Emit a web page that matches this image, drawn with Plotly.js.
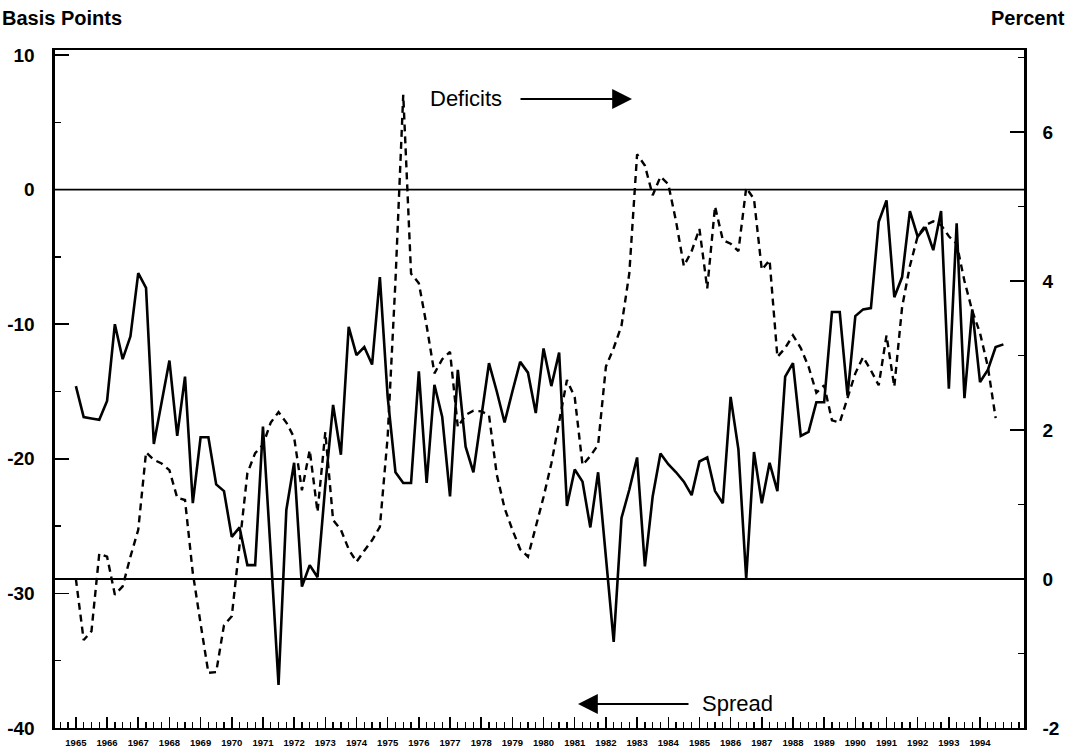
<!DOCTYPE html>
<html>
<head>
<meta charset="utf-8">
<script src="https://cdn.plot.ly/plotly-3.0.1.min.js"></script>
<style>html,body{margin:0;padding:0;background:#fff}#chart{width:1069px;height:752px}</style>
</head>
<body>
<div id="chart"></div>
<script>
// Quarterly data, 1965Q1 .. 1994Q4
const startYear = 1965;
const spread = [
 -14.6,-16.9,-17.0,-17.1,-15.7,-10.0,-12.6,-10.9,-6.2,-7.3,
 -18.9,-15.8,-12.7,-18.3,-13.9,-23.3,-18.4,-18.4,-21.9,-22.4,
 -25.8,-25.1,-27.9,-27.9,-17.6,-27.0,-36.8,-23.8,-20.3,-29.5,
 -27.9,-28.8,-22.0,-16.0,-19.7,-10.2,-12.3,-11.7,-13.0,-6.5,
 -15.4,-21.0,-21.8,-21.8,-13.5,-21.8,-14.5,-16.9,-22.8,-13.4,
 -19.1,-21.0,-17.0,-12.9,-15.0,-17.3,-15.0,-12.8,-13.6,-16.6,
 -11.8,-14.6,-12.1,-23.5,-20.8,-21.7,-25.1,-21.0,-27.3,-33.6,
 -24.4,-22.3,-19.9,-28.0,-22.8,-19.6,-20.4,-21.0,-21.7,-22.7,
 -20.2,-19.9,-22.4,-23.3,-15.4,-19.3,-28.9,-19.5,-23.3,-20.3,
 -22.4,-13.9,-12.9,-18.3,-18.0,-15.8,-15.8,-9.1,-9.1,-15.3,
 -9.4,-8.9,-8.8,-2.4,-0.8,-8.0,-6.5,-1.6,-3.5,-2.8,
 -4.5,-1.6,-14.8,-2.5,-15.5,-8.9,-14.3,-13.4,-11.7,-11.5
];
const deficits = [
 0.0,-0.82,-0.7,0.34,0.30,-0.21,-0.1,0.30,0.66,1.70,
 1.6,1.55,1.46,1.09,1.06,0.08,-0.6,-1.26,-1.25,-0.62,
 -0.5,0.43,1.42,1.69,1.8,2.1,2.24,2.1,1.9,1.19,
 1.73,0.9,1.97,0.79,0.66,0.4,0.23,0.38,0.52,0.7,
 1.91,4.0,6.5,4.1,3.97,3.4,2.76,2.95,3.05,2.04,
 2.2,2.26,2.25,2.2,1.4,0.95,0.66,0.4,0.3,0.7,
 1.1,1.55,2.1,2.67,2.44,1.53,1.65,1.8,2.85,3.1,
 3.4,4.1,5.7,5.55,5.15,5.4,5.3,4.8,4.2,4.4,
 4.7,3.9,5.0,4.55,4.5,4.4,5.25,5.1,4.15,4.28,
 2.98,3.1,3.27,3.1,2.85,2.5,2.6,2.13,2.1,2.44,
 2.76,2.98,2.8,2.6,3.27,2.58,3.65,4.2,4.6,4.75,
 4.8,4.75,4.6,4.5,4.0,3.6,3.3,2.85,2.16
];
const yearLabels = [];
for (let y = 1965; y <= 1994; y++) yearLabels.push(y);
const leftTicks = [-40, -30, -20, -10, 0, 10];
const rightTicks = [-2, 0, 2, 4, 6];

const xs = spread.map((_, i) => startYear + i / 4);
const xd = deficits.map((_, i) => startYear + i / 4);

const traces = [
  {x: xs, y: spread, type: 'scatter', mode: 'lines', yaxis: 'y',
   line: {color: '#000', width: 2.6}, hoverinfo: 'skip'},
  {x: xd, y: deficits, type: 'scatter', mode: 'lines', yaxis: 'y2',
   line: {color: '#000', width: 2.4, dash: '7px,5px'}, hoverinfo: 'skip'}
];

const FONT = 'Liberation Sans, Arial, sans-serif';
const W = 1069, H = 752, L = 55, R = 45, T = 50, B = 24;
const pw = W - L - R, ph = H - T - B;
const px = v => (v - L) / pw;
const py = v => (H - B - v) / ph;

const layout = {
  width: W, height: H,
  margin: {l: L, r: R, t: T, b: B, pad: 0},
  paper_bgcolor: '#fff', plot_bgcolor: '#fff',
  showlegend: false,
  font: {family: FONT, color: '#000'},
  xaxis: {
    range: [1964.33, 1995.41],
    tickvals: yearLabels, ticktext: yearLabels.map(String),
    ticks: 'inside', ticklen: 11, tickwidth: 1.5, tickcolor: '#000',
    minor: {dtick: 0.25, tick0: 1965, ticks: 'inside', ticklen: 6, tickwidth: 1.3, tickcolor: '#000'},
    showline: true, linewidth: 2.2, linecolor: '#000', mirror: true,
    showgrid: false, zeroline: false,
    tickfont: {family: FONT, size: 9.5, weight: 'bold', color: '#000'},
    ticklabelstandoff: 4
  },
  yaxis: {
    range: [-40, 10.37],
    tickvals: leftTicks, ticktext: leftTicks.map(String),
    ticks: 'inside', ticklen: 14, tickwidth: 1.5, tickcolor: '#000',
    minor: {tickvals: [-35, -25, -15, -5, 5], ticks: 'inside', ticklen: 6, tickwidth: 1.3, tickcolor: '#000'},
    showline: true, linewidth: 2.6, linecolor: '#000',
    showgrid: false, zeroline: false,
    tickfont: {family: FONT, size: 19, weight: 'bold', color: '#000'},
    ticklabelstandoff: 14
  },
  yaxis2: {
    range: [-2, 7.1], overlaying: 'y', side: 'right',
    tickvals: rightTicks, ticktext: rightTicks.map(String),
    ticks: 'inside', ticklen: 14, tickwidth: 1.5, tickcolor: '#000',
    minor: {tickvals: [-1, 1, 3, 5, 7], ticks: 'inside', ticklen: 6, tickwidth: 1.3, tickcolor: '#000'},
    showline: true, linewidth: 2.6, linecolor: '#000',
    showgrid: false, zeroline: false,
    tickfont: {family: FONT, size: 19, weight: 'bold', color: '#000'},
    ticklabelstandoff: 12
  },
  shapes: [
    {type: 'line', xref: 'paper', x0: 0, x1: 1, yref: 'y', y0: 0, y1: 0, line: {color: '#000', width: 1.8}},
    {type: 'line', xref: 'paper', x0: 0, x1: 1, yref: 'y2', y0: 0, y1: 0, line: {color: '#000', width: 1.8}}
  ],
  annotations: [
    {text: 'Basis Points', xref: 'paper', yref: 'paper', x: px(0), y: py(18), xanchor: 'left', yanchor: 'middle',
     showarrow: false, font: {family: FONT, size: 20, weight: 'bold', color: '#000'}},
    {text: 'Percent', xref: 'paper', yref: 'paper', x: px(1067), y: py(18), xanchor: 'right', yanchor: 'middle',
     showarrow: false, font: {family: FONT, size: 20, weight: 'bold', color: '#000'}},
    {text: 'Deficits', xref: 'paper', yref: 'paper', x: px(428), y: py(98), xanchor: 'left', yanchor: 'middle',
     showarrow: false, font: {family: FONT, size: 22, color: '#000'}},
    {text: '', xref: 'paper', yref: 'paper', x: px(632), y: py(99), showarrow: true,
     axref: 'pixel', ayref: 'pixel', ax: -113, ay: 0, arrowhead: 2, arrowsize: 2.2, arrowwidth: 1.8, arrowcolor: '#000'},
    {text: 'Spread', xref: 'paper', yref: 'paper', x: px(700), y: py(703), xanchor: 'left', yanchor: 'middle',
     showarrow: false, font: {family: FONT, size: 22, color: '#000'}},
    {text: '', xref: 'paper', yref: 'paper', x: px(578), y: py(704), showarrow: true,
     axref: 'pixel', ayref: 'pixel', ax: 112, ay: 0, arrowhead: 2, arrowsize: 2.2, arrowwidth: 1.8, arrowcolor: '#000'}
  ]
};

Plotly.newPlot('chart', traces, layout, {staticPlot: true, displayModeBar: false});
</script>
</body>
</html>
